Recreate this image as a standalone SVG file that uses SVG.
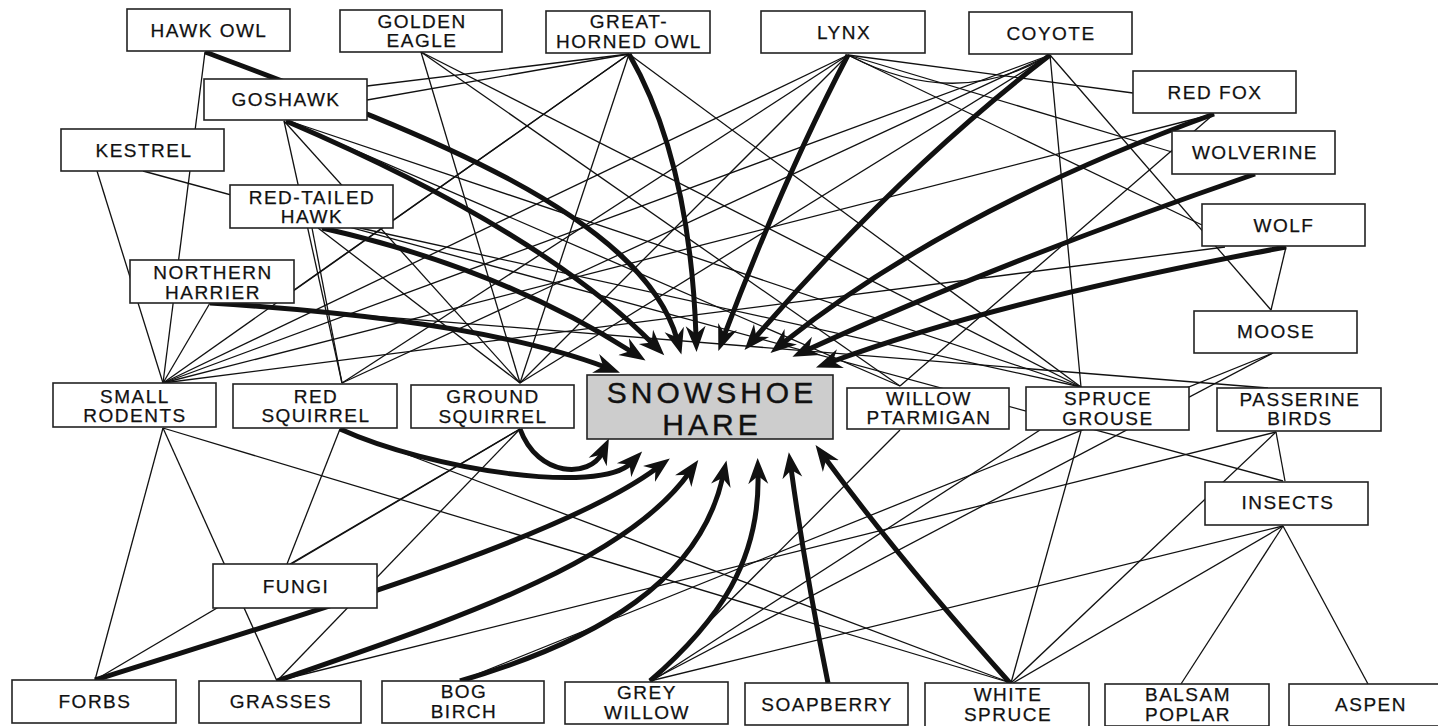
<svg xmlns="http://www.w3.org/2000/svg" width="1438" height="726" viewBox="0 0 1438 726">
<style>
.thin{stroke:#111;stroke-width:1.3;fill:none}
.thick{stroke:#111;stroke-width:5;fill:none;marker-end:url(#ah)}
.box{fill:#fff;stroke:#222;stroke-width:1.6}
.hare{fill:#cdcdcd;stroke:#222;stroke-width:1.6}
text{font-family:"Liberation Sans",Arial,sans-serif;font-size:19px;letter-spacing:1.5px;text-anchor:middle;fill:#111;stroke:#111;stroke-width:0.25}
.big{font-size:30px;letter-spacing:4px;stroke-width:0.4}
</style>
<defs>
<marker id="ah" markerUnits="userSpaceOnUse" viewBox="0 -11 27 22" refX="10" refY="0" markerWidth="27" markerHeight="22" orient="auto">
<path d="M26,0 L0,-10 L8,0 L0,10 Z" fill="#111"/>
</marker>
</defs>
<rect width="1438" height="726" fill="#fff"/>
<g id="connectors">
<g id="thin-links">
<line class="thin" x1="205" y1="52" x2="163" y2="383"/>
<line class="thin" x1="97" y1="171" x2="163" y2="383"/>
<line class="thin" x1="143" y1="171" x2="1283" y2="481"/>
<line class="thin" x1="210" y1="303" x2="163" y2="383"/>
<line class="thin" x1="210" y1="303" x2="1268" y2="388"/>
<line class="thin" x1="284" y1="121" x2="342" y2="383"/>
<line class="thin" x1="284" y1="121" x2="520" y2="383"/>
<line class="thin" x1="290" y1="122" x2="900" y2="386"/>
<line class="thin" x1="292" y1="122" x2="1081" y2="387"/>
<line class="thin" x1="312" y1="228" x2="342" y2="383"/>
<line class="thin" x1="318" y1="228" x2="520" y2="383"/>
<line class="thin" x1="360" y1="228" x2="1081" y2="387"/>
<line class="thin" x1="629" y1="54" x2="367" y2="86"/>
<line class="thin" x1="629" y1="54" x2="367" y2="100"/>
<line class="thin" x1="629" y1="54" x2="163" y2="383"/>
<line class="thin" x1="629" y1="54" x2="294" y2="290"/>
<line class="thin" x1="629" y1="54" x2="520" y2="383"/>
<line class="thin" x1="629" y1="54" x2="1081" y2="387"/>
<line class="thin" x1="421" y1="52" x2="520" y2="383"/>
<line class="thin" x1="421" y1="52" x2="1081" y2="387"/>
<line class="thin" x1="421" y1="52" x2="900" y2="386"/>
<line class="thin" x1="848" y1="55" x2="1133" y2="93"/>
<line class="thin" x1="848" y1="55" x2="1172" y2="152"/>
<line class="thin" x1="848" y1="55" x2="1202" y2="225"/>
<line class="thin" x1="848" y1="55" x2="163" y2="383"/>
<line class="thin" x1="848" y1="55" x2="342" y2="383"/>
<line class="thin" x1="848" y1="55" x2="520" y2="383"/>
<path class="thin" d="M850,56 Q955,110 1046,57"/>
<line class="thin" x1="1050" y1="55" x2="163" y2="383"/>
<line class="thin" x1="1050" y1="55" x2="342" y2="383"/>
<line class="thin" x1="1050" y1="55" x2="520" y2="383"/>
<line class="thin" x1="1050" y1="55" x2="1081" y2="387"/>
<line class="thin" x1="1050" y1="55" x2="1271" y2="310"/>
<line class="thin" x1="1214" y1="114" x2="163" y2="383"/>
<line class="thin" x1="1214" y1="114" x2="900" y2="386"/>
<line class="thin" x1="1286" y1="247" x2="1271" y2="310"/>
<line class="thin" x1="163" y1="383" x2="1225" y2="247"/>
<line class="thin" x1="1273" y1="353" x2="650" y2="681"/>
<line class="thin" x1="1273" y1="353" x2="460" y2="681"/>
<line class="thin" x1="163" y1="428" x2="95" y2="680"/>
<line class="thin" x1="163" y1="428" x2="277" y2="681"/>
<line class="thin" x1="163" y1="428" x2="1011" y2="683"/>
<line class="thin" x1="340" y1="429" x2="287" y2="564"/>
<line class="thin" x1="340" y1="429" x2="1011" y2="683"/>
<line class="thin" x1="520" y1="429" x2="290" y2="564"/>
<line class="thin" x1="520" y1="429" x2="95" y2="680"/>
<line class="thin" x1="520" y1="429" x2="277" y2="681"/>
<line class="thin" x1="900" y1="430" x2="650" y2="681"/>
<line class="thin" x1="1040" y1="430" x2="652" y2="681"/>
<line class="thin" x1="1081" y1="431" x2="1011" y2="683"/>
<line class="thin" x1="1276" y1="432" x2="277" y2="681"/>
<line class="thin" x1="1276" y1="432" x2="1285" y2="481"/>
<line class="thin" x1="1276" y1="432" x2="1011" y2="683"/>
<line class="thin" x1="1283" y1="526" x2="1013" y2="683"/>
<line class="thin" x1="1283" y1="526" x2="650" y2="681"/>
<line class="thin" x1="1283" y1="526" x2="1181" y2="684"/>
<line class="thin" x1="1283" y1="526" x2="1368" y2="684"/>
</g>
<g id="thick-links">
<path class="thick" d="M210,303 Q480,320 605,367"/>
<path class="thick" d="M322,228 Q500,268 632,352"/>
<path class="thick" d="M286,121 Q540,230 653,344"/>
<path class="thick" d="M205,52 C400,125 640,210 677,339"/>
<path class="thick" d="M629,54 Q690,160 696,336"/>
<path class="thick" d="M848,55 Q785,175 724,336"/>
<path class="thick" d="M1050,55 Q900,170 755,338"/>
<path class="thick" d="M1214,114 Q950,210 783,343"/>
<path class="thick" d="M1255,174 Q1000,262 807,350"/>
<path class="thick" d="M1286,247 Q1000,300 831,362"/>
<path class="thick" d="M520,429 C538,478 590,478 602,453"/>
<path class="thick" d="M340,429 C430,470 600,495 631,463"/>
<path class="thick" d="M95,680 C300,615 560,540 657,468"/>
<path class="thick" d="M277,681 C420,630 620,570 689,473"/>
<path class="thick" d="M460,681 C600,640 700,580 723,476"/>
<path class="thick" d="M650,681 C720,620 760,560 758,474"/>
<path class="thick" d="M828,683 Q805,570 791,468"/>
<path class="thick" d="M1010,683 Q900,560 825,458"/>
</g>
</g>
<g id="hawk-owl"><rect class="box" x="127" y="9" width="163" height="42"/><text x="209" y="37">HAWK OWL</text></g>
<g id="golden-eagle"><rect class="box" x="340" y="10" width="162" height="42"/><text x="422" y="28">GOLDEN</text><text x="422" y="47">EAGLE</text></g>
<g id="great-horned-owl"><rect class="box" x="546" y="11" width="164" height="42"/><text x="629" y="28">GREAT-</text><text x="629" y="48">HORNED OWL</text></g>
<g id="lynx"><rect class="box" x="761" y="11" width="164" height="42"/><text x="844" y="39">LYNX</text></g>
<g id="coyote"><rect class="box" x="969" y="12" width="163" height="42"/><text x="1051" y="40">COYOTE</text></g>
<g id="red-fox"><rect class="box" x="1133" y="71" width="163" height="42"/><text x="1215" y="99">RED FOX</text></g>
<g id="wolverine"><rect class="box" x="1172" y="131" width="163" height="43"/><text x="1255" y="159">WOLVERINE</text></g>
<g id="wolf"><rect class="box" x="1202" y="204" width="163" height="42"/><text x="1284" y="232">WOLF</text></g>
<g id="goshawk"><rect class="box" x="204" y="79" width="163" height="41"/><text x="286" y="106">GOSHAWK</text></g>
<g id="kestrel"><rect class="box" x="61" y="129" width="163" height="42"/><text x="144" y="157">KESTREL</text></g>
<g id="red-tailed-hawk"><rect class="box" x="230" y="185" width="163" height="43"/><text x="312" y="204">RED-TAILED</text><text x="312" y="223">HAWK</text></g>
<g id="northern-harrier"><rect class="box" x="130" y="260" width="164" height="43"/><text x="213" y="279">NORTHERN</text><text x="213" y="299">HARRIER</text></g>
<g id="small-rodents"><rect class="box" x="53" y="383" width="163" height="44"/><text x="135" y="403">SMALL</text><text x="135" y="422">RODENTS</text></g>
<g id="red-squirrel"><rect class="box" x="233" y="384" width="164" height="44"/><text x="316" y="403">RED</text><text x="316" y="422">SQUIRREL</text></g>
<g id="ground-squirrel"><rect class="box" x="411" y="385" width="163" height="43"/><text x="493" y="403">GROUND</text><text x="493" y="423">SQUIRREL</text></g>
<g id="snowshoe-hare"><rect class="hare" x="587" y="375" width="246" height="64"/><text class="big" x="712" y="403">SNOWSHOE</text><text class="big" x="712" y="435">HARE</text></g>
<g id="willow-ptarmigan"><rect class="box" x="847" y="388" width="162" height="41"/><text x="929" y="405">WILLOW</text><text x="929" y="424">PTARMIGAN</text></g>
<g id="spruce-grouse"><rect class="box" x="1026" y="387" width="163" height="43"/><text x="1108" y="405">SPRUCE</text><text x="1108" y="425">GROUSE</text></g>
<g id="passerine-birds"><rect class="box" x="1217" y="388" width="164" height="43"/><text x="1300" y="406">PASSERINE</text><text x="1300" y="425">BIRDS</text></g>
<g id="moose"><rect class="box" x="1194" y="311" width="163" height="42"/><text x="1276" y="338">MOOSE</text></g>
<g id="insects"><rect class="box" x="1205" y="482" width="163" height="43"/><text x="1288" y="509">INSECTS</text></g>
<g id="fungi"><rect class="box" x="213" y="564" width="164" height="44"/><text x="296" y="593">FUNGI</text></g>
<g id="forbs"><rect class="box" x="12" y="680" width="164" height="43"/><text x="95" y="708">FORBS</text></g>
<g id="grasses"><rect class="box" x="199" y="681" width="162" height="42"/><text x="281" y="708">GRASSES</text></g>
<g id="bog-birch"><rect class="box" x="382" y="681" width="162" height="42"/><text x="464" y="698">BOG</text><text x="464" y="718">BIRCH</text></g>
<g id="grey-willow"><rect class="box" x="565" y="682" width="163" height="42"/><text x="647" y="699">GREY</text><text x="647" y="719">WILLOW</text></g>
<g id="soapberry"><rect class="box" x="745" y="683" width="163" height="42"/><text x="827" y="711">SOAPBERRY</text></g>
<g id="white-spruce"><rect class="box" x="925" y="683" width="164" height="44"/><text x="1008" y="701">WHITE</text><text x="1008" y="721">SPRUCE</text></g>
<g id="balsam-poplar"><rect class="box" x="1105" y="684" width="164" height="42"/><text x="1188" y="701">BALSAM</text><text x="1188" y="721">POPLAR</text></g>
<g id="aspen"><rect class="box" x="1289" y="684" width="163" height="42"/><text x="1371" y="711">ASPEN</text></g>
</svg>
